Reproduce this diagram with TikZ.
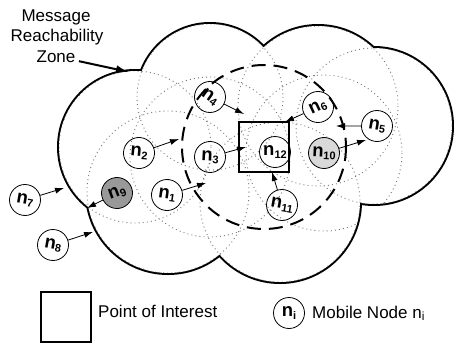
\documentclass[tikz,border=0pt]{standalone}
\usepackage{fontspec}
\setmainfont{Liberation Sans}
\usetikzlibrary{arrows.meta}

\newcommand{\nd}[1]{{\fontsize{18.5}{18}\selectfont\bfseries n\raisebox{-2.5pt}{\fontsize{11}{11}\selectfont #1}}}

\tikzset{
  mnode/.style={circle, draw, line width=0.8pt, minimum size=31pt, inner sep=0pt},
  radiorange/.style={black!55, line width=0.9pt, dash pattern=on 0.9pt off 3.2pt},
  arr/.style={line width=0.8pt, -{Latex[length=9pt,width=6pt]}},
}

\begin{document}
\begin{tikzpicture}[x=1pt,y=-1pt,font=\fontsize{17}{20}\selectfont]
    \useasboundingbox (0,0) rectangle (454,343);
    % radio ranges
    \coordinate (r1) at (168,192);
    \coordinate (r2) at (135,147);
    \coordinate (r3) at (210,157);
    \coordinate (r4) at (210,97);
    \coordinate (r5) at (374,126);
    \coordinate (r6) at (318,106);
    \coordinate (r10) at (324,153);
    \coordinate (r11) at (280,202);
    % reachability zone = union of the outer ranges
    \draw[line width=4pt] \foreach \c/\r in {r1/81,r2/76,r4/73,r6/80,r5/78,r11/80} {(\c) circle[radius=\r]};
    \fill[white] \foreach \c/\r in {r1/81,r2/76,r4/73,r6/80,r5/78,r11/80} {(\c) circle[radius=\r]};
    \begin{scope}
        \clip \foreach \c/\r in {r1/81,r2/76,r4/73,r6/80,r5/78,r11/80} {(\c) circle[radius=\r]};
        \draw[radiorange] \foreach \c/\r in {r1/81,r2/76,r3/80,r4/73,r6/80,r5/78,r10/78,r11/80} {(\c) circle[radius=\r]};
    \end{scope}
    % point of interest
    \node[draw, line width=2pt, minimum size=50pt, inner sep=0pt] (poi) at (264,147) {};
    \draw[line width=2pt, dash pattern=on 14pt off 8pt] (poi.center) circle[radius=82];
    % mobile nodes
    \node[mnode, rotate=-8] (n1) at (167,195) {\nd{1}};
    \node[mnode, rotate=-5] (n2) at (139,153) {\nd{2}};
    \node[mnode, rotate=-3] (n3) at (210,157) {\nd{3}};
    \node[mnode, rotate=-35] (n4) at (210,97) {\nd{4}};
    \node[mnode, rotate=-10] (n5) at (377,126) {\nd{5}};
    \node[mnode, rotate=25] (n6) at (318,107) {\nd{6}};
    \node[mnode, rotate=-10] (n7) at (25,200) {\nd{7}};
    \node[mnode, rotate=-10] (n8) at (53,245) {\nd{8}};
    \node[mnode, rotate=20, fill=black!40] (n9) at (117,193) {\nd{9}};
    \node[mnode, rotate=-3, fill=black!15] (n10) at (324,153) {\nd{10}};
    \node[mnode, rotate=-10] (n11) at (282,205) {\nd{11}};
    \node[mnode] (n12) at (275,152) {\nd{12}};
    % arrow tips
    \coordinate (t1) at (206,183);
    \coordinate (t2) at (179,139);
    \coordinate (t3) at (246,147);
    \coordinate (t4) at (244,114);
    \coordinate (t5) at (336,126);
    \coordinate (t6) at (285,122);
    \coordinate (t7) at (64,188);
    \coordinate (t8) at (93,232);
    \coordinate (t9) at (87,208);
    \coordinate (t10) at (366,140);
    \coordinate (t11) at (272,172);
    \coordinate (tz) at (129,72);
    \foreach \i in {1,...,11}
        \draw[arr] (n\i) -- (t\i);
    % zone label
    \node[anchor=base] (msg) at (56,21) {Message};
    \node[anchor=base] (reach) at (57,41) {Reachability};
    \node[anchor=base] (zn) at (56,62) {Zone};
    \draw[line width=2pt, -{Latex[length=13pt,width=8pt]}] (zn) -- (tz);
    % legend
    \node[draw, line width=1.3pt, minimum size=50pt, inner sep=0pt] (legsq) at (66,317) {};
    \node[anchor=base west, inner sep=0pt] (legsqtxt) at (98,317) {Point of Interest};
    \node[mnode] (legnd) at (289,313) {\nd{i}};
    \node[anchor=base west, inner sep=0pt] (legndtxt) at (312,318) {Mobile Node n\textsubscript{i}};
\end{tikzpicture}
\end{document}
